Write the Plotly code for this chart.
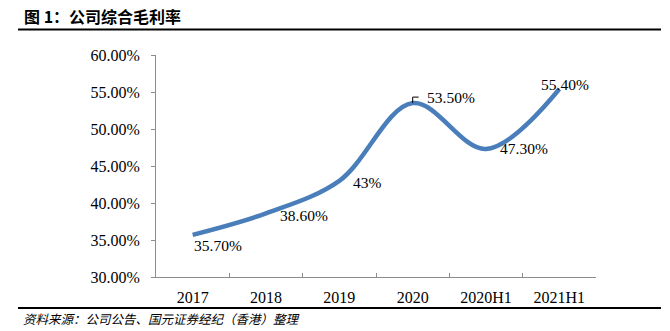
import plotly.graph_objects as go

# ---- data ----
categories = ["2017", "2018", "2019", "2020", "2020H1", "2021H1"]
margin_pct = [35.7, 38.6, 43.0, 53.5, 47.3, 55.4]
label_texts = ["35.70%", "38.60%", "43%", "53.50%", "47.30%", "55.40%"]
y_tick_vals = [30, 35, 40, 45, 50, 55, 60]
y_tick_text = ["30.00%", "35.00%", "40.00%", "45.00%", "50.00%", "55.00%", "60.00%"]

title_text = "图 1：公司综合毛利率"
source_text = "资料来源：公司公告、国元证券经纪（香港）整理"

# ---- style ----
SERIF = "Liberation Serif, Times New Roman, serif"
CJK = "Noto Sans CJK SC, sans-serif"
LINE_COLOR = "#4A7EBB"
AXIS_COLOR = "#8C8C8C"

# label placement (anchor, xshift, yshift) per point
label_style = [
    ("left", -1, -11),
    ("left", 12, -2),
    ("left", 12, -2),
    ("left", 12, 6),
    ("left", 12, 0),
    ("center", 6, 5),
]

fig = go.Figure()
fig.add_trace(go.Scatter(
    x=categories, y=margin_pct, mode="lines",
    line=dict(color=LINE_COLOR, width=4.5, shape="spline", smoothing=1.0),
    hoverinfo="skip", showlegend=False,
))

annotations = []
for idx, (val, txt, (anc, xs, ys)) in enumerate(zip(margin_pct, label_texts, label_style)):
    annotations.append(dict(
        x=idx, y=val, xref="x", yref="y", text=txt, showarrow=False,
        xanchor=anc, yanchor="middle", xshift=xs, yshift=ys,
        font=dict(family=SERIF, size=15.5, color="#000000"),
    ))

annotations.append(dict(
    x=-0.3045, y=1.1757, xref="paper", yref="paper", text="<b>" + title_text + "</b>",
    showarrow=False, xanchor="left", yanchor="middle",
    font=dict(family=CJK, size=16, color="#000000"),
))
annotations.append(dict(
    x=-0.3068, y=-0.189, xref="paper", yref="paper", text="<i>" + source_text + "</i>",
    showarrow=False, xanchor="left", yanchor="middle",
    font=dict(family=CJK, size=12.5, color="#000000"),
))

shapes = [
    dict(type="line", xref="paper", yref="paper", x0=-0.3136, x1=1.1477, y0=1.1149, y1=1.1149,
         line=dict(color="#000000", width=2)),
    dict(type="line", xref="paper", yref="paper", x0=-0.3136, x1=1.1477, y0=-0.1396, y1=-0.1396,
         line=dict(color="#000000", width=2), layer="above"),
    # small leader line at the 2020 label
    dict(type="path", xref="x", yref="y", xsizemode="pixel", ysizemode="pixel",
         xanchor=3, yanchor=margin_pct[3], path="M0,0 L0,6 L6,6",
         line=dict(color="#000000", width=1)),
]

fig.update_layout(
    width=670, height=331,
    margin=dict(l=156, r=74, t=55, b=54),
    paper_bgcolor="white", plot_bgcolor="white",
    annotations=annotations, shapes=shapes,
    xaxis=dict(
        type="category", range=[-0.5, 5.5], showgrid=False, zeroline=False,
        showline=True, linecolor=AXIS_COLOR, linewidth=1,
        ticks="inside", tickson="boundaries", ticklen=4, tickcolor=AXIS_COLOR,
        tickfont=dict(family=SERIF, size=16, color="#000000"),
        ticklabelstandoff=6,
    ),
    yaxis=dict(
        range=[30, 60], tickvals=y_tick_vals, ticktext=y_tick_text,
        showgrid=False, zeroline=False,
        showline=True, linecolor=AXIS_COLOR, linewidth=1,
        ticks="outside", ticklen=4, tickcolor=AXIS_COLOR,
        tickfont=dict(family=SERIF, size=16, color="#000000"),
        ticklabelstandoff=8,
    ),
)

fig.write_html("out.html")
